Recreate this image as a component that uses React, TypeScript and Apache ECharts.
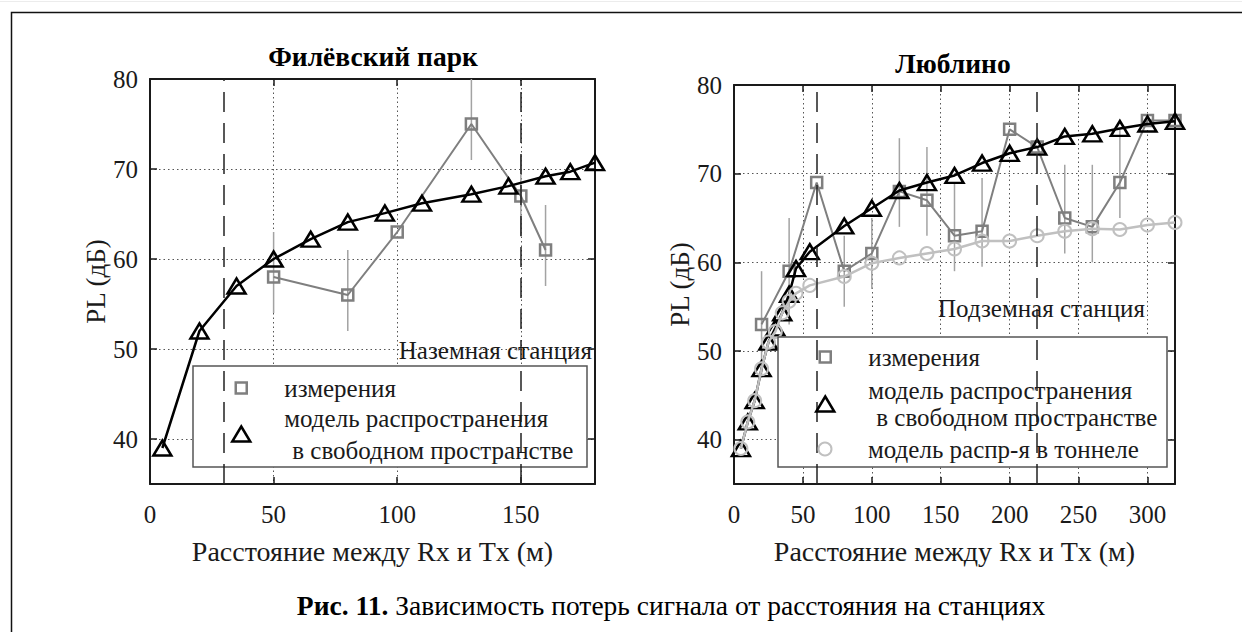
import React, { useEffect, useRef } from 'react';
import * as echarts from 'echarts';

const FONT = 'Liberation Serif';

// ---------- Left plot: Филёвский парк ----------
const filTitle = 'Филёвский парк';
const filMeasX = [50, 80, 100, 130, 150, 160];
const filMeasY = [58, 56, 63, 75, 67, 61];
const filErrLow = [54, 52, null, 71, 62.5, 57];
const filErrHigh = [63, 61, null, 80, 71.5, 66];
const filModelX = [5, 20, 35, 50, 65, 80, 95, 110, 130, 145, 160, 170, 180];
const filModelY = [39, 52, 57, 60, 62.2, 64.1, 65.1, 66.2, 67.2, 68.1, 69.2, 69.7, 70.7];
const filBounds = [30, 150];
const filXMax = 180;
const filNote = 'Наземная станция';

// ---------- Right plot: Люблино ----------
const lubTitle = 'Люблино';
const lubMeasX = [20, 40, 60, 80, 100, 120, 140, 160, 180, 200, 220, 240, 260, 280, 300, 320];
const lubMeasY = [53, 59, 69, 59, 61, 68, 67, 63, 63.5, 75, 73, 65, 64, 69, 76, 76];
const lubErrLow = [47, 53, null, 55, 57, 64, 63, 59, 59.5, null, null, 61, 60, 65, null, null];
const lubErrHigh = [59, 65, null, 63, 65, 74, 73, 69, 69.5, null, null, 71, 71, 75, null, null];
const lubModelX = [5, 10, 15, 20, 25, 30, 35, 40, 45, 55, 80, 100, 120, 140, 160, 180, 200, 220, 240, 260, 280, 300, 320];
const lubFreeY = [39, 42, 44.4, 48, 51, 52.6, 54.3, 56.4, 59.3, 61.2, 64.1, 66.1, 68.1, 69, 69.8, 71.2, 72.3, 73, 74.2, 74.5, 75.1, 75.6, 75.9];
const lubTunnelY = [39, 42, 44.4, 48, 51, 52.2, 54.3, 55.6, 56.5, 57.4, 58.4, 59.9, 60.5, 61, 61.5, 62.4, 62.4, 63, 63.5, 63.8, 63.7, 64.2, 64.5];
const lubBounds = [60, 220];
const lubXMax = 320;
const lubNote = 'Подземная станция';

// ---------- shared ----------
const yMin = 35;
const yMax = 80;
const xInterval = 50;
const xName = 'Расстояние между Rx и Tx (м)';
const yName = 'PL (дБ)';
const nameMeas = 'измерения';
const nameFree = 'модель распространения в свободном пространстве';
const nameTunnel = 'модель распр-я в тоннеле';
const caption = 'Зависимость потерь сигнала от расстояния на станциях';
const captionBold = 'Рис. 11.';

const AX = '#1a1a1a';
const TXT = '#1a1a1a';
const GRAY = '#7f7f7f';
const LIGHT = '#c0c0c0';
const ERR = '#a3a3a3';

const pairs = (xs: number[], ys: number[]) => xs.map((x, i) => [x, ys[i]]);
const errData = (xs: number[], lo: (number | null)[], hi: (number | null)[]) =>
  xs.map((x, i) => [x, lo[i], hi[i]]).filter((d) => d[1] != null && d[2] != null);

const splitLine = { show: true, lineStyle: { color: '#555', width: 1, type: [1.5, 3] } };
const axisLine = { show: true, onZero: false, lineStyle: { color: AX, width: 2 } };
const axisTick = { show: true, inside: true, length: 7, lineStyle: { color: AX, width: 1.5 } };

function xAxes(gi: number, max: number) {
  return [
    {
      gridIndex: gi, type: 'value', min: 0, max, interval: xInterval, position: 'bottom',
      axisLine, axisTick,
      axisLabel: {
        margin: 18, fontSize: 25, fontFamily: FONT, color: TXT,
        formatter: (v: number) => (v % xInterval === 0 ? String(v) : ''),
      },
      splitLine,
      name: xName, nameLocation: 'middle', nameGap: 53,
      nameTextStyle: { fontSize: 28, fontFamily: FONT, color: TXT },
    },
    {
      gridIndex: gi, type: 'value', min: 0, max, interval: xInterval, position: 'top',
      axisLine, axisTick, axisLabel: { show: false }, splitLine: { show: false },
    },
  ];
}

function yAxes(gi: number, gap: number) {
  return [
    {
      gridIndex: gi, type: 'value', min: yMin, max: yMax, splitNumber: 5, position: 'left',
      axisLine, axisTick,
      axisLabel: {
        margin: 12, fontSize: 25, fontFamily: FONT, color: TXT,
        formatter: (v: number) => (v % 10 === 0 ? String(v) : ''),
      },
      splitLine,
      name: yName, nameLocation: 'middle', nameGap: gap,
      nameTextStyle: { fontSize: 27, fontFamily: FONT, color: TXT },
    },
    {
      gridIndex: gi, type: 'value', min: yMin, max: yMax, splitNumber: 5, position: 'right',
      axisLine, axisTick, axisLabel: { show: false }, splitLine: { show: false },
    },
  ];
}

function errSeries(xi: number, yi: number, data: any[]) {
  return {
    type: 'custom', xAxisIndex: xi, yAxisIndex: yi, z: 1, silent: true,
    encode: { x: 0, y: [1, 2] },
    data,
    renderItem: (params: any, api: any) => {
      const lo = api.coord([api.value(0), api.value(1)]);
      const hi = api.coord([api.value(0), api.value(2)]);
      const cs = params.coordSys;
      const top = Math.max(hi[1], cs.y);
      const bot = Math.min(lo[1], cs.y + cs.height);
      return {
        type: 'line',
        shape: { x1: lo[0], y1: bot, x2: lo[0], y2: top },
        style: { stroke: ERR, lineWidth: 1.5 },
      };
    },
  };
}

function measSeries(xi: number, yi: number, data: any[], bounds: number[]) {
  return {
    name: nameMeas, type: 'line', xAxisIndex: xi, yAxisIndex: yi, z: 2,
    data, symbol: 'rect', symbolSize: 11, showSymbol: true,
    lineStyle: { color: GRAY, width: 2 },
    itemStyle: { color: 'rgba(0,0,0,0)', borderColor: GRAY, borderWidth: 2.5 },
    markLine: {
      silent: true, symbol: 'none', animation: false,
      label: { show: false },
      lineStyle: { color: '#222', width: 1.5, type: [20, 11] },
      data: bounds.map((b) => ({ xAxis: b })),
    },
  };
}

function freeSeries(xi: number, yi: number, data: any[]) {
  return {
    name: nameFree, type: 'line', xAxisIndex: xi, yAxisIndex: yi, z: 3,
    data, symbol: 'triangle', symbolSize: [18, 15], showSymbol: true,
    lineStyle: { color: '#000', width: 2.5 },
    itemStyle: { color: 'rgba(0,0,0,0)', borderColor: '#000', borderWidth: 2.5 },
  };
}

function tunnelSeries(xi: number, yi: number, data: any[]) {
  return {
    name: nameTunnel, type: 'line', xAxisIndex: xi, yAxisIndex: yi, z: 4,
    data, symbol: 'circle', symbolSize: 13, showSymbol: true,
    lineStyle: { color: LIGHT, width: 2.5 },
    itemStyle: { color: 'rgba(0,0,0,0)', borderColor: LIGHT, borderWidth: 2 },
  };
}

function legendItem(name: string, icon: string, w: number, h: number, stroke: string, bw: number,
  left: number, top: number, pad: number, extra: any = {}) {
  return {
    show: true, orient: 'vertical', left, top, padding: 0, selectedMode: false,
    itemWidth: w, itemHeight: h, symbolKeepAspect: false, z: 6,
    data: [{ name, icon, itemStyle: { color: 'rgba(0,0,0,0)', borderColor: stroke, borderWidth: bw } }],
    textStyle: { fontSize: 25, fontFamily: FONT, color: TXT, padding: [0, 0, 0, pad], lineHeight: 30, ...extra.textStyle },
    ...(extra.formatter ? { formatter: extra.formatter } : {}),
  };
}

const freeFormatter = (lh: number) => ({
  formatter: () => '{a|модель распространения}\n{b|в свободном пространстве}',
  textStyle: {
    rich: {
      a: { fontSize: 25, fontFamily: FONT, color: TXT, lineHeight: lh },
      b: { fontSize: 25, fontFamily: FONT, color: TXT, lineHeight: lh, padding: [0, 0, 0, 8] },
    },
  },
});

const option: any = {
  animation: false,
  backgroundColor: '#fff',
  textStyle: { fontFamily: FONT },
  title: [
    { text: filTitle, left: 373, top: 42, textAlign: 'center', padding: 0,
      textStyle: { fontSize: 27.5, fontWeight: 'bold', fontFamily: FONT, color: '#000' } },
    { text: lubTitle, left: 953, top: 49, textAlign: 'center', padding: 0,
      textStyle: { fontSize: 27.5, fontWeight: 'bold', fontFamily: FONT, color: '#000' } },
  ],
  grid: [
    { left: 150, top: 79, width: 445, height: 405, containLabel: false },
    { left: 734, top: 85, width: 441, height: 399, containLabel: false },
  ],
  xAxis: [...xAxes(0, filXMax), ...xAxes(1, lubXMax)],
  yAxis: [...yAxes(0, 36), ...yAxes(1, 33)],
  legend: [
    legendItem(nameMeas, 'rect', 11, 11, GRAY, 2.5, 234.5, 373, 32.5),
    legendItem(nameFree, 'triangle', 18, 15, '#000', 2.5, 231, 402, 29, freeFormatter(32)),
    legendItem(nameMeas, 'rect', 11, 11, GRAY, 2.5, 818.5, 342, 32.5),
    legendItem(nameFree, 'triangle', 18, 15, '#000', 2.5, 815, 377, 29, freeFormatter(27)),
    legendItem(nameTunnel, 'circle', 13, 13, LIGHT, 2, 817.5, 434, 31.5),
  ],
  graphic: [
    { type: 'line', z: 10, shape: { x1: 0, y1: 1.5, x2: 1242, y2: 1.5 }, style: { stroke: '#ececec', lineWidth: 1 } },
    { type: 'polyline', z: 10, shape: { points: [[11.5, 632], [11.5, 12.5], [1242, 12.5]] },
      style: { stroke: '#111', lineWidth: 1.5, fill: 'none' } },
    { type: 'rect', z: 5, shape: { x: 193, y: 366, width: 394, height: 101 },
      style: { fill: '#fff', stroke: '#555', lineWidth: 1.5 } },
    { type: 'rect', z: 5, shape: { x: 778, y: 337, width: 389, height: 130 },
      style: { fill: '#fff', stroke: '#555', lineWidth: 1.5 } },
    { type: 'text', z: 6, x: 592, y: 350,
      style: { text: filNote, fontSize: 25, fontFamily: FONT, fill: TXT, align: 'right', verticalAlign: 'middle' } },
    { type: 'text', z: 6, x: 1145, y: 308,
      style: { text: lubNote, fontSize: 25, fontFamily: FONT, fill: TXT, align: 'right', verticalAlign: 'middle' } },
    { type: 'text', z: 6, x: 671, y: 605,
      style: {
        text: '{b|' + captionBold + '} ' + caption,
        rich: { b: { fontSize: 27.5, fontWeight: 'bold', fontFamily: FONT, fill: '#000' } },
        fontSize: 27.5, fontFamily: FONT, fill: '#000', align: 'center', verticalAlign: 'middle',
      } },
  ],
  series: [
    errSeries(0, 0, errData(filMeasX, filErrLow, filErrHigh)),
    measSeries(0, 0, pairs(filMeasX, filMeasY), filBounds),
    freeSeries(0, 0, pairs(filModelX, filModelY)),
    errSeries(2, 2, errData(lubMeasX, lubErrLow, lubErrHigh)),
    measSeries(2, 2, pairs(lubMeasX, lubMeasY), lubBounds),
    freeSeries(2, 2, pairs(lubModelX, lubFreeY)),
    tunnelSeries(2, 2, pairs(lubModelX, lubTunnelY)),
  ],
};

export default function App() {
  const ref = useRef<HTMLDivElement>(null);
  useEffect(() => {
    const chart = echarts.init(ref.current!, undefined, { renderer: 'svg' });
    chart.setOption(option);
    return () => chart.dispose();
  }, []);
  return (
    <div
      ref={ref}
      style={{ position: 'absolute', left: 0, top: 0, width: 1242, height: 632, background: '#fff' }}
    />
  );
}
